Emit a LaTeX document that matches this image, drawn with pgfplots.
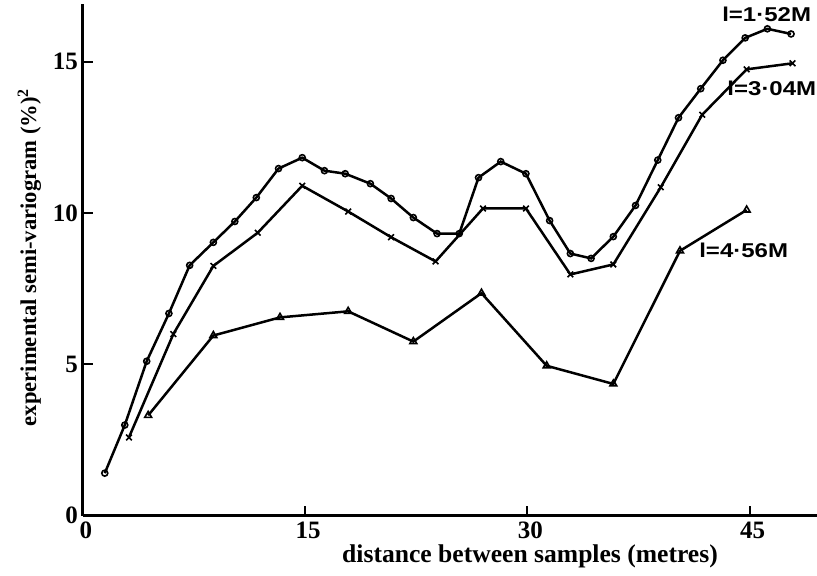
\documentclass[border=0pt]{standalone}
\usepackage{fontspec}
\setmainfont{Liberation Serif}
\newfontfamily\lblfont{Liberation Sans}
\usepackage{pgfplots}
\pgfplotsset{compat=1.18}

% semi-variogram values for three sampling lags
\pgfplotstableread{
x y
1.47 1.40
2.82 2.99
4.30 5.10
5.80 6.68
7.20 8.27
8.80 9.03
10.25 9.72
11.70 10.51
13.20 11.47
14.80 11.83
16.30 11.40
17.70 11.30
19.40 10.97
20.80 10.48
22.30 9.85
23.90 9.32
25.40 9.32
26.70 11.17
28.20 11.70
29.90 11.30
31.50 9.75
32.90 8.66
34.30 8.50
35.80 9.22
37.30 10.25
38.80 11.75
40.20 13.15
41.70 14.11
43.20 15.05
44.70 15.79
46.20 16.09
47.80 15.92
}\lagA
\pgfplotstableread{
x y
3.10 2.58
6.10 6.00
8.80 8.25
11.80 9.35
14.80 10.90
17.90 10.05
20.80 9.20
23.80 8.40
27.00 10.15
29.90 10.15
32.90 7.97
35.80 8.30
39.00 10.85
41.80 13.25
44.80 14.75
47.90 14.95
}\lagB
\pgfplotstableread{
x y
4.40 3.31
8.80 5.95
13.30 6.55
17.90 6.75
22.30 5.75
26.90 7.35
31.30 4.95
35.80 4.35
40.30 8.75
44.80 10.10
}\lagC

\begin{document}
\begin{tikzpicture}
\useasboundingbox (-41.5pt,-29.75pt) rectangle (367pt,257.75pt);
\begin{axis}[
  at={(0,0)}, anchor=south west,
  scale only axis,
  width=367pt, height=255.75pt,
  xmin=0, xmax=49.55,
  ymin=0, ymax=16.91,
  axis lines*=left,
  axis line style={line width=1.5pt},
  separate axis lines,
  x axis line style={-}, y axis line style={-},
  xtick={0,15,30,45},
  ytick={0,5,10,15},
  tick align=inside,
  major tick length=5pt,
  tick style={line width=1pt, black},
  /pgf/number format/assume math mode=true,
  tick label style={font=\fontsize{12.5}{13}\selectfont\bfseries},
  xticklabel style={yshift=0.5pt, xshift=1.5pt},
  yticklabel style={xshift=1pt},
  xlabel={distance between samples (metres)},
  ylabel={experimental semi-variogram (\%)$^{\mathbf{2}}$},
  xlabel style={font=\fontsize{12.8}{13}\selectfont\bfseries,
    at={(axis description cs:0.609,0)}, anchor=center, yshift=-20.5pt},
  ylabel style={font=\fontsize{11.3}{12}\selectfont\bfseries,
    at={(axis description cs:-0.073,0.505)}, anchor=center},
  clip=false,
]
\addplot[black, line width=1.25pt, mark=o, mark size=1.5pt,
  mark options={fill=white, line width=0.8pt}] table[x=x,y=y] {\lagA};
\addplot[black, line width=1.25pt, mark=x, mark size=2pt,
  mark options={line width=0.8pt}] table[x=x,y=y] {\lagB};
\addplot[black, line width=1.25pt, mark=triangle, mark size=2pt,
  mark options={fill=white, line width=0.8pt}] table[x=x,y=y] {\lagC};

\node[font=\lblfont\fontsize{10}{10}\selectfont\bfseries, xscale=1.2]
  at (axis cs:46.15,16.57) {l=1·52M};
\node[font=\lblfont\fontsize{10}{10}\selectfont\bfseries, xscale=1.2]
  at (axis cs:46.5,14.12) {l=3·04M};
\node[font=\lblfont\fontsize{10}{10}\selectfont\bfseries, xscale=1.2]
  at (axis cs:44.6,8.78) {l=4·56M};
\end{axis}
\end{tikzpicture}
\end{document}
